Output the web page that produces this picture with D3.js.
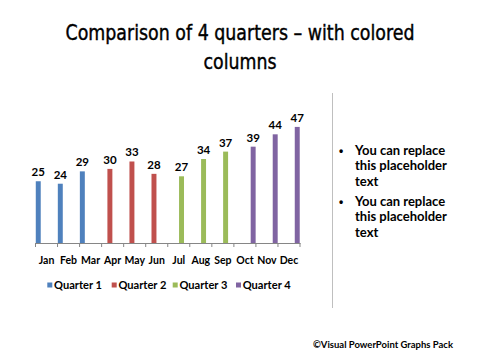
<!DOCTYPE html>
<html><head><meta charset="utf-8">
<script src="https://cdn.jsdelivr.net/npm/d3@7"></script>
<style>body{margin:0;background:#fff}svg{display:block}</style>
</head><body>
<svg id="c" width="480" height="360"></svg>
<script>
const months = ["Jan","Feb","Mar","Apr","May","Jun","Jul","Aug","Sep","Oct","Nov","Dec"];
const quarters = ["Quarter 1","Quarter 2","Quarter 3","Quarter 4"];
const q1Months = ["Jan","Feb","Mar"], q1Values = [25,24,29];
const q2Months = ["Apr","May","Jun"], q2Values = [30,33,28];
const q3Months = ["Jul","Aug","Sep"], q3Values = [27,34,37];
const q4Months = ["Oct","Nov","Dec"], q4Values = [39,44,47];
const colors = ["#4F81BD","#C0504D","#9BBB59","#8064A2"];
const bullets = [["You can replace","this placeholder","text"],["You can replace","this placeholder","text"]];
const titleLines = ["Comparison of 4 quarters \u2013 with colored","columns"];
const credit = "\u00A9Visual PowerPoint Graphs Pack";

const series = [
  {name: quarters[0], months: q1Months, values: q1Values},
  {name: quarters[1], months: q2Months, values: q2Values},
  {name: quarters[2], months: q3Months, values: q3Values},
  {name: quarters[3], months: q4Months, values: q4Values}
];
const bars = [];
series.forEach((s, si) => s.months.forEach((m, i) => bars.push({m, v: s.values[i], si})));

const svg = d3.select("#c");
const font = "Lato, 'Open Sans', sans-serif";

// title (condensed face)
const titleWidths = [349, 73];
svg.append("g").selectAll("text").data(titleLines).join("text")
  .attr("x", 240).attr("y", (d,i) => 40 + i*29)
  .attr("text-anchor","middle")
  .attr("font-family","'DejaVu Sans Condensed', 'DejaVu Sans', sans-serif")
  .attr("font-stretch","condensed")
  .attr("font-size", 22).attr("fill","#000")
  .attr("stroke","#000").attr("stroke-width",0.4)
  .attr("textLength", (d,i) => titleWidths[i])
  .attr("lengthAdjust","spacingAndGlyphs")
  .text(d => d);

const x0 = d3.scaleBand().domain(months).range([35.5, 300]).paddingInner(0).paddingOuter(0);
const x1 = d3.scaleBand().domain(d3.range(4)).range([0, x0.bandwidth()]).paddingInner(0.1).paddingOuter(0.05);
const y = d3.scaleLinear().domain([0, 50]).range([243, 119.5]);

// bars
svg.append("g").selectAll("rect").data(bars).join("rect")
  .attr("x", d => x0(d.m) + x1(d.si))
  .attr("width", x1.bandwidth())
  .attr("y", d => y(d.v))
  .attr("height", d => y(0) - y(d.v))
  .attr("fill", d => colors[d.si]);

// data labels
svg.append("g").selectAll("text").data(bars).join("text")
  .attr("x", d => x0(d.m) + x1(d.si) + x1.bandwidth()/2)
  .attr("y", d => y(d.v) - 5)
  .attr("text-anchor","middle")
  .attr("font-family", font).attr("font-weight","bold").attr("font-size", 11.5)
  .attr("fill","#000")
  .text(d => d.v);

// x axis
const ax = svg.append("g").attr("transform", `translate(0,${y(0)})`)
  .call(d3.axisBottom(x0).tickSize(0).tickPadding(14));
ax.select(".domain").attr("stroke","#868686").attr("stroke-width",1);
ax.selectAll("text").attr("font-family", font).attr("font-weight","bold").attr("font-size", 10.5).attr("fill","#000");
// tick marks at band boundaries
const bounds = months.map(m => x0(m)).concat([x0.range()[1]]);
svg.append("g").selectAll("line").data(bounds).join("line")
  .attr("x1", d => d).attr("x2", d => d)
  .attr("y1", y(0)).attr("y2", y(0) + 4)
  .attr("stroke","#868686");

// legend
const legX = [47.3, 111.7, 172.7, 236];
const leg = svg.append("g").selectAll("g").data(quarters).join("g")
  .attr("transform", (d,i) => `translate(${legX[i]},285)`);
leg.append("rect").attr("x",0).attr("y",-2.5).attr("width",5).attr("height",5).attr("fill",(d,i) => colors[i]);
leg.append("text").attr("x",6.7).attr("y",4)
  .attr("font-family", font).attr("font-weight","bold").attr("font-size",11).attr("fill","#000")
  .attr("textLength",48).attr("lengthAdjust","spacingAndGlyphs")
  .text(d => d);

// divider line
svg.append("line").attr("x1",332.5).attr("x2",332.5).attr("y1",93).attr("y2",308)
  .attr("stroke","#bfbfbf").attr("stroke-width",1);

// bullets
const bl = svg.append("g");
bullets.forEach((lines, bi) => {
  const top = 155 + bi*51;
  bl.append("text").attr("x",339).attr("y",top - 0.5).attr("font-family","Arial, 'Liberation Sans', sans-serif").attr("font-weight","bold").attr("font-size",12).text("\u2022");
  bl.selectAll(null).data(lines).join("text")
    .attr("x",355).attr("y",(d,i) => top + i*15.3)
    .attr("font-family",font).attr("font-weight","bold").attr("font-size",13).attr("fill","#000")
    .text(d => d);
});

// credit
svg.append("text").attr("x",313).attr("y",348)
  .attr("font-family",font).attr("font-weight","bold").attr("font-size",9.5).attr("fill","#000")
  .attr("textLength",140).attr("lengthAdjust","spacingAndGlyphs")
  .text(credit);
</script>
</body></html>
